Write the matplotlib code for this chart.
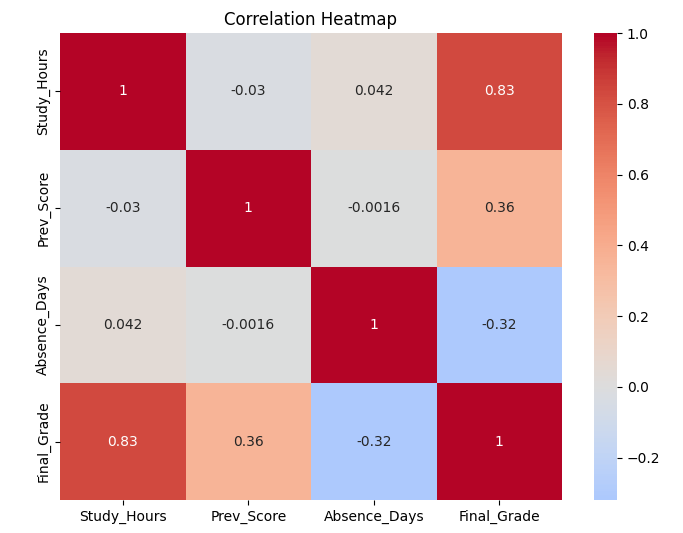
import numpy as np
import matplotlib
matplotlib.use("Agg")
import matplotlib.pyplot as plt
import seaborn as sns
import pandas as pd

labels = ["Study_Hours", "Prev_Score", "Absence_Days", "Final_Grade"]
study_hours = [1, -0.03, 0.042, 0.83]
prev_score = [-0.03, 1, -0.0016, 0.36]
absence_days = [0.042, -0.0016, 1, -0.32]
final_grade = [0.83, 0.36, -0.32, 1]

corr = pd.DataFrame([study_hours, prev_score, absence_days, final_grade],
                    index=labels, columns=labels)

W, H = 683, 533
dpi = 100
fig = plt.figure(figsize=(W / dpi, H / dpi))
# positions measured in pixels of the reference
ax = fig.add_axes([60 / W, 1 - 500 / H, (562 - 60) / W, (500 - 33) / H])
cax = fig.add_axes([594 / W, 1 - 500 / H, (617 - 594) / W, (500 - 33) / H])
sns.heatmap(corr, annot=True, cmap="coolwarm", center=0, ax=ax, cbar_ax=cax)
ax.set_title("Correlation Heatmap")
fig.savefig("out.png", dpi=dpi)
